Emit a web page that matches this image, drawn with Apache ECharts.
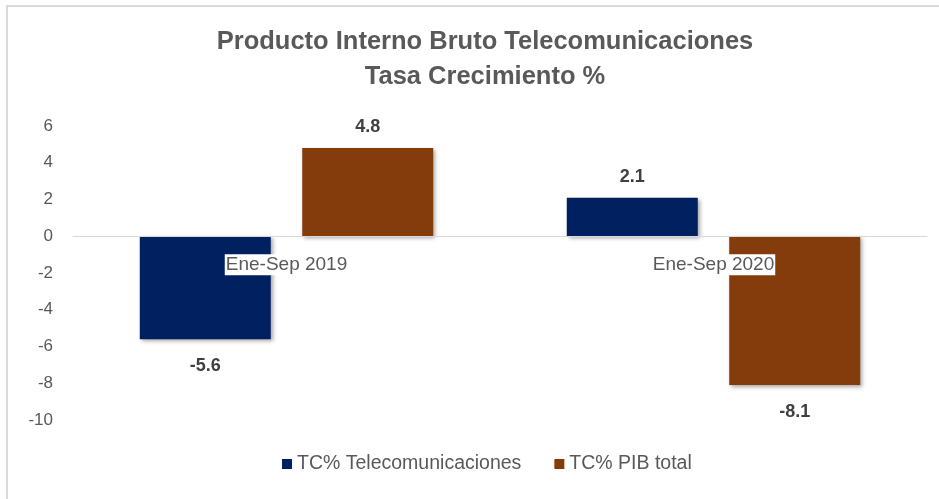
<!DOCTYPE html>
<html>
<head>
<meta charset="utf-8">
<script src="https://cdn.jsdelivr.net/npm/echarts@6/dist/echarts.min.js"></script>
<style>
html,body{margin:0;padding:0;background:#fff;}
#frame{position:absolute;left:6px;top:5px;width:933px;height:494px;border-top:2px solid #d9d9d9;border-left:2px solid #d9d9d9;}
#chart{position:absolute;left:0;top:0;width:939px;height:499px;}
</style>
</head>
<body>
<div id="frame"></div>
<div id="chart"></div>
<script>
var categories = ['Ene-Sep 2019', 'Ene-Sep 2020'];
var seriesNames = ['TC% Telecomunicaciones', 'TC% PIB total'];
var telecom = [-5.6, 2.1];
var pibTotal = [4.8, -8.1];
var yTicks = {min: -10, max: 6, interval: 2};

var chart = echarts.init(document.getElementById('chart'), null, {renderer: 'canvas'});
var FONT = 'Liberation Sans';
var shadow = {shadowColor: 'rgba(0,0,0,0.35)', shadowBlur: 4, shadowOffsetX: 2, shadowOffsetY: 2};
function makeSeries(name, data, color) {
  return {
    name: name,
    type: 'bar',
    barWidth: 131,
    barGap: '24%',
    data: data.map(function (v) {
      return {value: v, label: v >= 0 ? {position: 'top', distance: 12} : {position: 'bottom', distance: 18}};
    }),
    itemStyle: Object.assign({color: color}, shadow),
    label: {
      show: true,
      fontFamily: FONT,
      fontSize: 18,
      fontWeight: 'bold',
      color: '#404040',
      formatter: function (p) { return p.value.toFixed(1); }
    },
    z: 2
  };
}
chart.setOption({
  backgroundColor: 'transparent',
  animation: false,
  title: {
    text: 'Producto Interno Bruto Telecomunicaciones\nTasa Crecimiento %',
    left: 480,
    textAlign: 'center',
    top: 19,
    textStyle: {fontFamily: FONT, fontSize: 25.5, fontWeight: 'bold', color: '#595959', lineHeight: 35}
  },
  legend: {
    bottom: 20,
    left: 277,
    icon: 'rect',
    itemWidth: 10,
    itemHeight: 10,
    itemGap: 33,
    textStyle: {fontFamily: FONT, fontSize: 19.5, color: '#595959'},
    data: seriesNames
  },
  grid: {left: 73, right: 12, top: 126, bottom: 79},
  xAxis: {
    type: 'category',
    data: categories,
    axisLine: {onZero: true, lineStyle: {color: '#d9d9d9', width: 1}},
    axisTick: {show: false},
    axisLabel: {
      fontFamily: FONT, fontSize: 19, color: '#595959', margin: 18,
      backgroundColor: '#fff', padding: [1, 1, 1, 1]
    },
    z: 5
  },
  yAxis: {
    type: 'value',
    min: yTicks.min,
    max: yTicks.max,
    interval: yTicks.interval,
    splitLine: {show: false},
    axisLine: {show: false},
    axisTick: {show: false},
    axisLabel: {fontFamily: FONT, fontSize: 17, color: '#595959', margin: 20}
  },
  series: [
    makeSeries(seriesNames[0], telecom, '#002060'),
    makeSeries(seriesNames[1], pibTotal, '#843C0C')
  ]
});
// Move category labels to sit under the zero line (as in the reference)
var yZero = chart.convertToPixel({yAxisIndex: 0}, 0);
var yMin = chart.convertToPixel({yAxisIndex: 0}, yTicks.min);
chart.setOption({xAxis: {offset: -(yMin - yZero), axisLine: {onZero: false}}});
</script>
</body>
</html>
